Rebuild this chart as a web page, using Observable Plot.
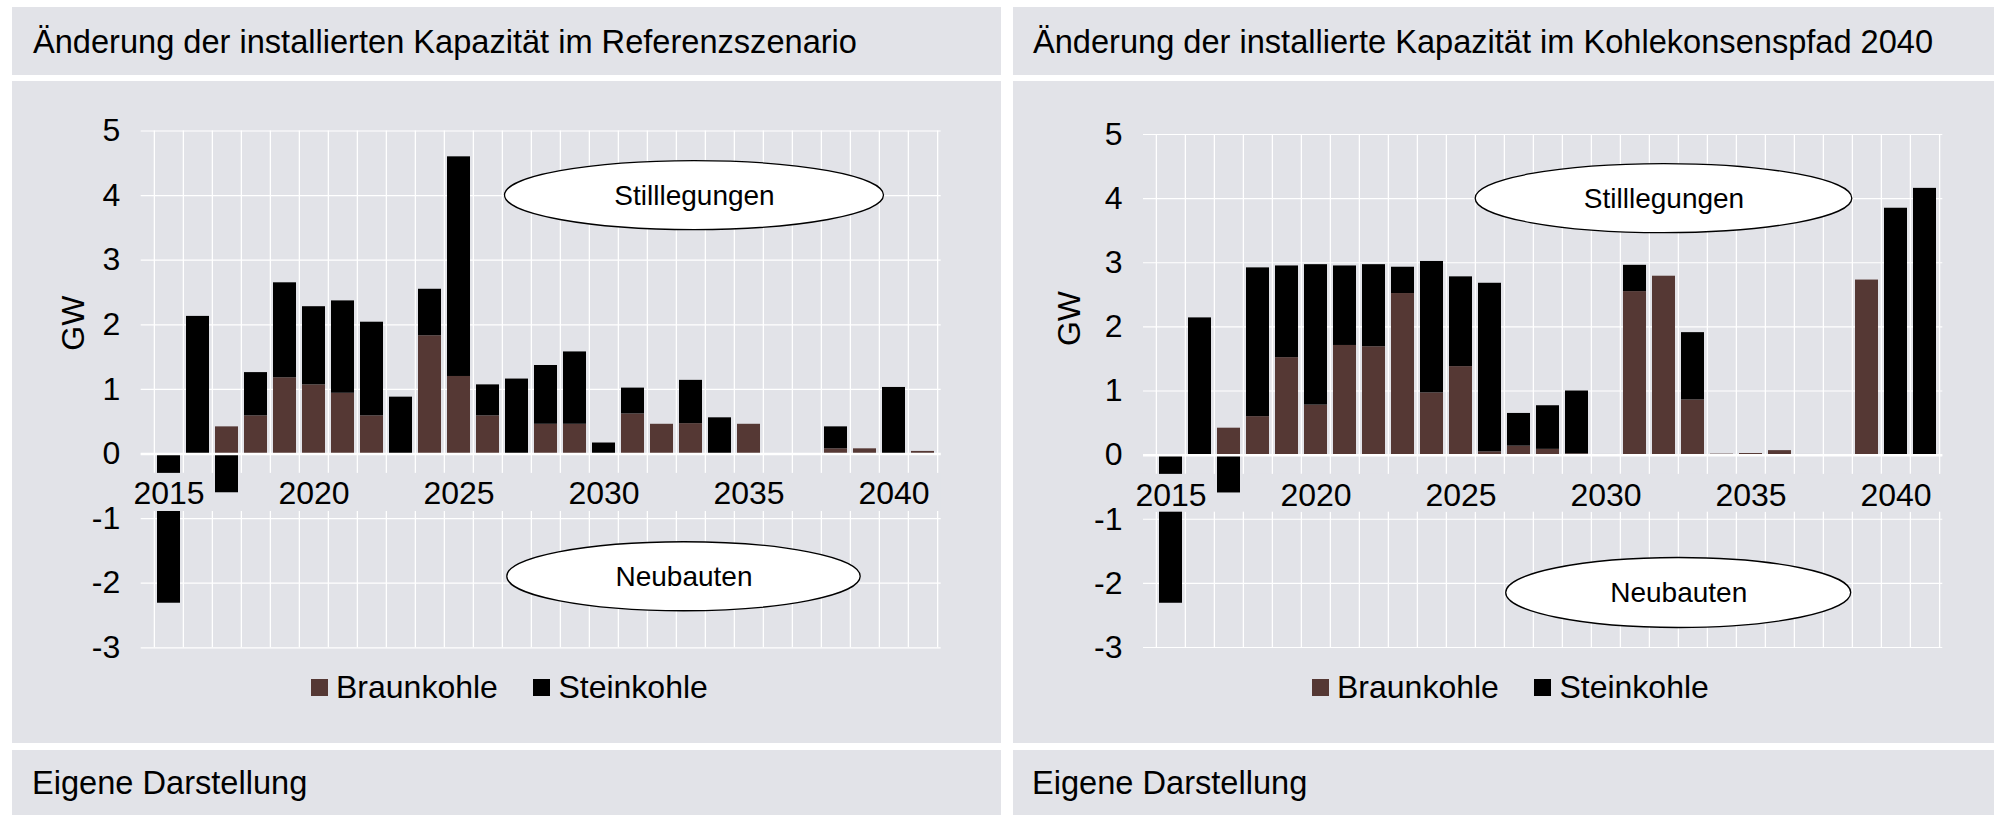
<!DOCTYPE html>
<html>
<head>
<meta charset="utf-8">
<script src="https://cdn.jsdelivr.net/npm/d3@7"></script>
<script src="https://cdn.jsdelivr.net/npm/@observablehq/plot@0.6"></script>
<style>
  html, body { margin: 0; padding: 0; background: #ffffff; }
  body { position: relative; width: 2002px; height: 815px; overflow: hidden;
         font-family: "Liberation Sans", Arial, sans-serif; color: #000; }
  .panel { position: absolute; background: #e2e3e8; }
  .txt { position: absolute; font-size: 32.6px; line-height: 32px; white-space: nowrap; }
  .legend { position: absolute; display: flex; align-items: center; height: 32px;
            font-size: 32px; line-height: 32px; white-space: nowrap; }
  .sw { width: 17px; height: 17px; margin-right: 8px; flex: none; }
  .chart { position: absolute; }
</style>
</head>
<body>
<script>
// ---------------- data ----------------
const years = [2015, 2016, 2017, 2018, 2019, 2020, 2021, 2022, 2023, 2024, 2025, 2026, 2027, 2028,
               2029, 2030, 2031, 2032, 2033, 2034, 2035, 2036, 2037, 2038, 2039, 2040, 2041];

// Referenzszenario (GW)
const braunRef = [0, 0, 0.42, 0.59, 1.18, 1.07, 0.94, 0.59, 0, 1.83, 1.20, 0.59, 0, 0.46,
                  0.46, 0, 0.62, 0.46, 0.47, 0, 0.46, 0, 0, 0.08, 0.08, 0, 0.04];
const steinRef = [-2.31, 2.13, -0.60, 0.67, 1.47, 1.21, 1.43, 1.45, 0.88, 0.72, 3.40, 0.48, 1.16, 0.91,
                  1.12, 0.17, 0.40, 0, 0.67, 0.56, 0, 0, 0, 0.34, 0, 1.03, 0];

// Kohlekonsenspfad 2040 (GW)
const braunKK = [0, 0, 0.42, 0.60, 1.52, 0.78, 1.71, 1.69, 2.52, 0.97, 1.38, 0.05, 0.14, 0.09,
                 0.02, 0.01, 2.55, 2.79, 0.86, 0.015, 0.025, 0.07, 0.01, 0, 2.73, 0, 0];
const steinKK = [-2.31, 2.14, -0.59, 2.32, 1.43, 2.19, 1.24, 1.28, 0.41, 2.05, 1.40, 2.63, 0.51, 0.68,
                 0.98, 0, 0.41, 0, 1.05, 0, 0, 0, 0, 0, 0, 3.85, 4.16];

const seriesNames = ["Braunkohle", "Steinkohle"];
const seriesColors = ["#553834", "#000000"];
const yTicks = [-3, -2, -1, 0, 1, 2, 3, 4, 5];
const xLabelYears = [2015, 2020, 2025, 2030, 2035, 2040];
const yLabel = "GW";
const titles = ["Änderung der installierten Kapazität im Referenzszenario",
                "Änderung der installierte Kapazität im Kohlekonsenspfad 2040"];
const sourceText = "Eigene Darstellung";

const annotLabels = ["Stilllegungen", "Neubauten"];
const annotYearsRef = [2033, 2033];
const annotValuesRef = [4, -1.9];
const annotYearsKK = [2032, 2032];
const annotValuesKK = [4, -2.15];

// ---------------- helpers ----------------
const BG = "#e2e3e8";
const FONT = '"Liberation Sans", Arial, sans-serif';

function rows(braun, stein) {
  const out = [];
  years.forEach((yr, i) => { if (braun[i] !== 0) out.push({year: yr, type: seriesNames[0], value: braun[i]}); });
  years.forEach((yr, i) => { if (stein[i] !== 0) out.push({year: yr, type: seriesNames[1], value: stein[i]}); });
  return out;
}

// custom mark: white ellipses placed through the x/y scales
function ellipseMark(yrs, vals, dxs, rxs, rys) {
  return (index, scales) => {
    const g = d3.create("svg:g");
    const xs = scales.x, ys = scales.y;
    const bw = typeof xs.bandwidth === "function" ? xs.bandwidth() : 0;
    yrs.forEach((yr, i) => {
      g.append("ellipse")
        .attr("cx", xs(yr) + bw / 2 + dxs[i])
        .attr("cy", ys(vals[i]))
        .attr("rx", rxs[i]).attr("ry", rys[i])
        .attr("fill", "#ffffff").attr("stroke", "#000000").attr("stroke-width", 1.3);
    });
    return g.node();
  };
}

function makeChart(cfg) {
  const data = rows(cfg.braun, cfg.stein);
  const step = (cfg.width - cfg.marginLeft - cfg.marginRight) / years.length;
  return Plot.plot({
    width: cfg.width, height: cfg.height,
    marginLeft: cfg.marginLeft, marginRight: cfg.marginRight,
    marginTop: cfg.marginTop, marginBottom: cfg.marginBottom,
    style: {background: "transparent", fontFamily: FONT, fontSize: "32px", color: "#000"},
    x: {type: "band", domain: years, paddingInner: 0.2, paddingOuter: 0.1, axis: null},
    y: {domain: [-3, 5], axis: null},
    color: {domain: seriesNames, range: seriesColors},
    marks: [
      // horizontal grid with outer tick stubs
      Plot.ruleY(yTicks, {y: d => d, stroke: "#ffffff", strokeWidth: 1.2, insetLeft: -10}),
      // vertical grid at category boundaries
      Plot.ruleX(years, {x: d => d, dx: -step / 2, stroke: "#ffffff", strokeWidth: 1.3}),
      Plot.ruleX([years[years.length - 1]], {x: d => d, dx: step / 2, stroke: "#ffffff", strokeWidth: 1.3}),
      // band behind the category labels
      Plot.rect([0], {y1: -0.3, y2: -0.89, fill: BG}),
      // stacked bars (Braunkohle below Steinkohle, negatives stacked downward)
      Plot.barY(data, {x: "year", y: "value", fill: "type"}),
      // label boxes
      Plot.barY(xLabelYears, {x: d => d, y1: -0.3, y2: -0.89, fill: BG, insetLeft: -26, insetRight: -26}),
      // zero line
      Plot.ruleY([0], {y: d => d, stroke: "#ffffff", strokeWidth: 2.5, insetLeft: -10}),
      // category labels
      Plot.text(xLabelYears, {x: d => d, y: 0, dy: cfg.xLabelDy, text: d => String(d), fontSize: 32, fill: "#000"}),
      // y tick labels
      Plot.text(yTicks, {y: d => d, frameAnchor: "left", dx: -31, textAnchor: "end", text: d => String(d), fontSize: 32, fill: "#000"}),
      // y label
      Plot.text([yLabel], {y: cfg.gwY, frameAnchor: "left", dx: cfg.gwDx, rotate: -90, text: d => d, fontSize: 32, fill: "#000"}),
      // annotations
      ellipseMark(cfg.annotYears, cfg.annotValues, cfg.annotDx, cfg.annotRx, cfg.annotRy),
      ...annotLabels.map((lab, i) =>
        Plot.text([lab], {x: cfg.annotYears[i], y: cfg.annotValues[i], dx: cfg.annotDx[i], text: d => d, fontSize: 28, fill: "#000"}))
    ]
  });
}

// ---------------- layout ----------------
const panels = [
  {left: 12, width: 989, titleLeft: 33, srcLeft: 32, legendLeft: 311,
   chart: {braun: braunRef, stein: steinRef, width: 989, height: 590,
           marginLeft: 138.7, marginRight: 60.3, marginTop: 49.5, marginBottom: 23.7,
           xLabelDy: 39.6, gwY: 1.6, gwDx: -77,
           annotYears: annotYearsRef, annotValues: annotValuesRef,
           annotDx: [3.5, -7], annotRx: [189.5, 176.7], annotRy: [34.5, 34.5]}},
  {left: 1013, width: 981, titleLeft: 1033, srcLeft: 1032, legendLeft: 1312,
   chart: {braun: braunKK, stein: steinKK, width: 981, height: 590,
           marginLeft: 140, marginRight: 51.7, marginTop: 53, marginBottom: 24,
           xLabelDy: 40.2, gwY: 1.7, gwDx: -84,
           annotYears: annotYearsKK, annotValues: annotValuesKK,
           annotDx: [0, 14.7], annotRx: [188.3, 172.5], annotRy: [34.5, 35]}}
];

panels.forEach((p, k) => {
  const add = (cls, style, text) => {
    const el = document.createElement("div");
    el.className = cls;
    Object.assign(el.style, style);
    if (text != null) el.textContent = text;
    document.body.appendChild(el);
    return el;
  };
  add("panel", {left: p.left + "px", top: "7px", width: p.width + "px", height: "68px"});
  add("panel", {left: p.left + "px", top: "81px", width: p.width + "px", height: "662px"});
  add("panel", {left: p.left + "px", top: "750px", width: p.width + "px", height: "65px"});
  add("txt", {left: p.titleLeft + "px", top: "26px"}, titles[k]);
  add("txt", {left: p.srcLeft + "px", top: "767px"}, sourceText);

  const holder = add("chart", {left: p.left + "px", top: "81px"});
  holder.appendChild(makeChart(p.chart));

  const leg = add("legend", {left: p.legendLeft + "px", top: "671px"});
  seriesNames.forEach((name, i) => {
    const sw = document.createElement("span");
    sw.className = "sw";
    sw.style.background = seriesColors[i];
    const t = document.createElement("span");
    t.textContent = name;
    if (i === 0) t.style.marginRight = "35.5px";
    leg.appendChild(sw); leg.appendChild(t);
  });
});
</script>
</body>
</html>
